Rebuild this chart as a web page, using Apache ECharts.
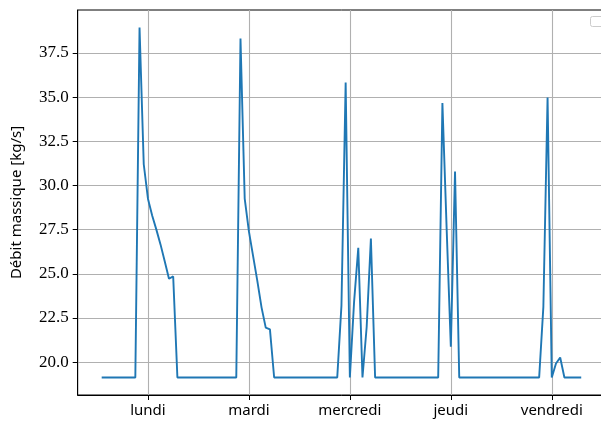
<!DOCTYPE html>
<html>
<head>
<meta charset="utf-8">
<script src="https://cdn.jsdelivr.net/npm/echarts@6/dist/echarts.min.js"></script>
<style>
html,body{margin:0;padding:0;background:#fff;overflow:hidden;width:601px;height:421px;}
#chart{width:608px;height:421px;}
</style>
</head>
<body>
<div id="chart"></div>
<script>
// hour index (from Monday 0h)
const hours = [];
for (let h = 1; h <= 115; h++) hours.push(h);
const B = 19.13;
// mass flow values, one per hour (h = 1 .. 115)
const debit = [
  B, B, B, B, B, B, B, B, B,                 // 1-9
  38.94, 31.2, 29.25, 28.3, 27.5, 26.65, 25.7, 24.72, 24.85, // 10-18
  B, B, B, B, B, B, B, B, B, B, B, B, B, B, B, // 19-33
  38.32, 29.26, 27.4, 26.0, 24.6, 23.1, 21.95, 21.85, // 34-41
  B, B, B, B, B, B, B, B, B, B, B, B, B, B, B, B, // 42-57
  23.2, 35.83, B, 23.4, 26.47, B, 22.0, 27.0,      // 58-65
  B, B, B, B, B, B, B, B, B, B, B, B, B, B, B, B, // 66-81
  34.67, 27.6, 20.87, 30.79,                       // 82-85
  B, B, B, B, B, B, B, B, B, B, B, B, B, B, B, B, B, B, B, B, // 86-105
  23.13, 34.98, B, 19.92, 20.26,                   // 106-110
  B, B, B, B, B                                    // 111-115
];
const dayTicks = [12, 36, 60, 84, 108];
const dayLabels = ['lundi', 'mardi', 'mercredi', 'jeudi', 'vendredi'];
const yTicks = [20, 22.5, 25, 27.5, 30, 32.5, 35, 37.5];
const yLabel = 'Débit massique [kg/s]';

const xMinD = Math.min(...hours), xMaxD = Math.max(...hours);
const yMinD = Math.min(...debit), yMaxD = Math.max(...debit);
const xPad = 0.05 * (xMaxD - xMinD), yPad = 0.05 * (yMaxD - yMinD);

const chart = echarts.init(document.getElementById('chart'), null, {renderer: 'canvas'});
chart.setOption({
  animation: false,
  backgroundColor: '#ffffff',
  grid: {
    left: 77.7, top: 10, right: 2.8, bottom: 26,
    show: true, borderColor: '#000000', borderWidth: 1, backgroundColor: 'transparent',
    containLabel: false
  },
  xAxis: {
    type: 'value',
    min: xMinD - xPad, max: xMaxD + xPad,
    axisLine: {show: true, onZero: false, lineStyle: {color: '#000', width: 1}},
    axisTick: {show: true, customValues: dayTicks, length: 5, lineStyle: {color: '#000', width: 1}},
    axisLabel: {
      show: true, customValues: dayTicks, margin: 8,
      formatter: v => { const i = dayTicks.indexOf(v); return i >= 0 ? dayLabels[i] : ''; },
      fontFamily: 'Noto Sans', fontSize: 15, color: '#000'
    },
    splitLine: {show: true, lineStyle: {color: '#b0b0b0', width: 1.1}}
  },
  yAxis: {
    type: 'value',
    min: yMinD - yPad, max: yMaxD + yPad,
    name: yLabel, nameLocation: 'middle', nameGap: 53,
    nameTextStyle: {fontFamily: 'Noto Sans', fontSize: 15, color: '#000'},
    axisLine: {show: true, onZero: false, lineStyle: {color: '#000', width: 1}},
    axisTick: {show: true, customValues: yTicks, length: 5, lineStyle: {color: '#000', width: 1}},
    axisLabel: {
      show: true, customValues: yTicks, margin: 9,
      formatter: v => v.toFixed(1),
      fontFamily: 'Liberation Serif', fontSize: 17, color: '#000'
    },
    splitLine: {show: true, lineStyle: {color: '#b0b0b0', width: 1.1}}
  },
  series: [{
    type: 'line',
    data: hours.map((h, i) => [h, debit[i]]),
    showSymbol: false,
    lineStyle: {color: '#1f77b4', width: 1.9},
    itemStyle: {color: '#1f77b4'},
    clip: true
  }],
  graphic: [{
    type: 'rect', shape: {x: 590.5, y: 16.5, width: 14, height: 10, r: 2},
    style: {fill: 'rgba(255,255,255,0.8)', stroke: '#cccccc', lineWidth: 1}, z: 100
  }]
});
</script>
</body>
</html>
